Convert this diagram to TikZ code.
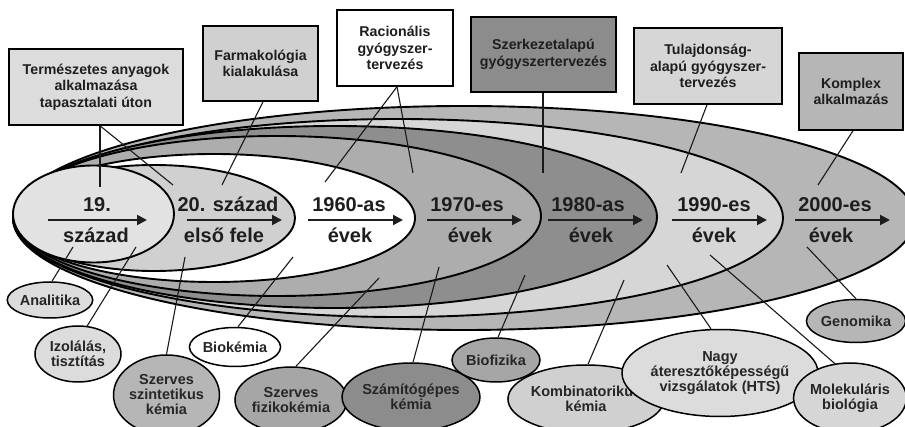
\documentclass[tikz,border=0pt]{standalone}
\usepackage{fontspec}
\setmainfont{Liberation Sans}
\usetikzlibrary{shapes.geometric,arrows.meta}
\definecolor{cE2000}{HTML}{B6B6B6}
\definecolor{cE1990}{HTML}{D6D6D6}
\definecolor{cE1980}{HTML}{8E8E8E}
\definecolor{cE1970}{HTML}{ADADAD}
\definecolor{cE20}{HTML}{D0D0D0}
\definecolor{cE19}{HTML}{E2E2E2}
\definecolor{cLight}{HTML}{DCDCDC}
\definecolor{cMid}{HTML}{B6B6B6}
\definecolor{cMidD}{HTML}{A6A6A6}
\definecolor{cDark}{HTML}{8C8C8C}
\definecolor{cTxt}{HTML}{1E1E1E}
\begin{document}
\begin{tikzpicture}[x=1pt,y=-1pt,
  bigell/.style={draw=black, line width=1.9pt},
  yr/.style={font=\bfseries\fontsize{20}{24}\selectfont, anchor=base, text=cTxt, inner sep=0pt},
  tl/.style={-{Triangle[length=10pt,width=10pt]}, line width=2pt, cTxt},
  tbox/.style={draw=black, line width=1.5pt, rectangle, align=center, inner sep=0pt,
    font=\bfseries\fontsize{14.2}{16.5}\selectfont, text=cTxt},
  bub/.style={draw=black, line width=1.5pt, ellipse, align=center, inner sep=0pt,
    font=\bfseries\fontsize{14.5}{15}\selectfont, text=black!85},
  con/.style={line width=1.1pt, black!90}]
\useasboundingbox (0,0) rectangle (905,427);
% nested eras
\filldraw[bigell, fill=cE2000] (464,218) ellipse [x radius=451pt, y radius=112pt];
\filldraw[bigell, fill=cE1990] (398,218) ellipse [x radius=385pt, y radius=99pt];
\filldraw[bigell, fill=cE1980] (335,217) ellipse [x radius=322pt, y radius=91pt];
\filldraw[bigell, fill=cE1970] (277,216) ellipse [x radius=264pt, y radius=80pt];
\filldraw[bigell, fill=white] (214,218) ellipse [x radius=201pt, y radius=64pt];
\filldraw[bigell, fill=cE20] (154,218) ellipse [x radius=141pt, y radius=53pt];
\filldraw[bigell, fill=cE19] (93.5,214) ellipse [x radius=80.5pt, y radius=48.5pt];
% year labels
\node[yr] (l19a) at (97,212) {19.};
\node[yr] (l19b) at (96,243) {század};
\node[yr] (l20a) at (228,212) {20. század};
\node[yr] (l20b) at (224,243) {első fele};
\node[yr] (l60a) at (349,212) {1960-as};
\node[yr] (l60b) at (350,243) {évek};
\node[yr] (l70a) at (467,212) {1970-es};
\node[yr] (l70b) at (470,243) {évek};
\node[yr] (l80a) at (588,212) {1980-as};
\node[yr] (l80b) at (591,243) {évek};
\node[yr] (l90a) at (714,212) {1990-es};
\node[yr] (l90b) at (714,243) {évek};
\node[yr] (l00a) at (835,212) {2000-es};
\node[yr] (l00b) at (831,243) {évek};
% arrows
\coordinate (r19s) at (48,220);  \coordinate (r19e) at (147,220);
\coordinate (r20s) at (187,220); \coordinate (r20e) at (282,220);
\coordinate (r60s) at (308,220); \coordinate (r60e) at (403,220);
\coordinate (r70s) at (427,220); \coordinate (r70e) at (522,220);
\coordinate (r80s) at (548,220); \coordinate (r80e) at (643,220);
\coordinate (r90s) at (672,220); \coordinate (r90e) at (767,220);
\coordinate (r00s) at (795,220); \coordinate (r00e) at (890,220);
\foreach \k in {19,20,60,70,80,90,00}{\draw[tl] (r\k s) -- (r\k e);}
% boxes
\node[tbox, fill=cLight, minimum width=174pt, minimum height=76pt] (b1) at (96,87)
  {Természetes anyagok\\alkalmazása\\tapasztalati úton};
\node[tbox, fill=cE20, minimum width=115pt, minimum height=75pt] (b2) at (260.5,63.5)
  {Farmakológia\\kialakulása};
\node[tbox, fill=white, minimum width=116pt, minimum height=76pt] (b3) at (395,48)
  {Racionális\\gyógyszer-\\tervezés};
\node[tbox, fill=cDark, minimum width=145pt, minimum height=75pt] (b4) at (543.5,54.5)
  {Szerkezetalapú\\gyógyszertervezés};
\node[tbox, fill=cE1990, minimum width=148pt, minimum height=76pt] (b5) at (708,66)
  {Tulajdonság-\\alapú gyógyszer-\\tervezés};
\node[tbox, fill=cMid, minimum width=104pt, minimum height=77pt] (b6) at (851,91.5)
  {Komplex\\alkalmazás};
% box connectors
\coordinate (p1a) at (100,187);
\coordinate (p1b) at (173,185);
\coordinate (p2) at (222,185);
\coordinate (p3a) at (325,182);
\coordinate (p3b) at (413,173);
\coordinate (p4) at (543,173);
\coordinate (p5) at (681,173);
\coordinate (p6) at (818,185);
\draw[con] ([xshift=4pt]b1.south) -- (p1a);
\draw[con] ([xshift=4pt]b1.south) -- (p1b);
\draw[con] ([xshift=2.5pt]b2.south) -- (p2);
\draw[con] ([xshift=2pt]b3.south) -- (p3a);
\draw[con] ([xshift=2pt]b3.south) -- (p3b);
\draw[con] ([xshift=-0.5pt]b4.south) -- (p4);
\draw[con] ([xshift=-1pt]b5.south) -- (p5);
\draw[con] ([xshift=2pt]b6.south) -- (p6);
% bubbles
\node[bub, fill=cLight, minimum width=84pt, minimum height=36pt] (n1) at (50,300) {Analitika};
\node[bub, fill=cLight, minimum width=86pt, minimum height=56pt] (n2) at (78,354) {Izolálás,\\tisztítás};
\node[bub, fill=cMid, minimum width=94pt, minimum height=80pt] (n3) at (166.5,395) {Szerves\\szintetikus\\kémia};
\node[bub, fill=white, minimum width=84pt, minimum height=39pt] (n4) at (235,347) {Biokémia};
\node[bub, fill=cMidD, minimum width=112pt, minimum height=66pt] (n5) at (291,400) {Szerves\\fizikokémia};
\node[bub, fill=cDark, minimum width=118pt, minimum height=68pt] (n6) at (411,397) {Számítógépes\\kémia};
\node[bub, fill=cMidD, minimum width=88pt, minimum height=44pt] (n7) at (496,360) {Biofizika};
\node[bub, fill=cE20, minimum width=122pt, minimum height=68pt] (n8) at (586,399) {Kombinatorikus\\kémia};
\node[bub, fill=cLight, minimum width=154pt, minimum height=87pt] (n9) at (720,373) {Nagy\\áteresztőképességű\\vizsgálatok (HTS)};
\node[bub, fill=cE1990, minimum width=110pt, minimum height=70pt] (n10) at (850,398) {Molekuláris\\biológia};
\node[bub, fill=cMid, minimum width=96pt, minimum height=43pt] (n11) at (856,321) {Genomika};
% bubble connectors
\coordinate (q1) at (73,247);
\coordinate (q2) at (136,247);
\coordinate (q3) at (185,257);
\coordinate (q4) at (293,257);
\coordinate (q5) at (379,278);
\coordinate (q6) at (439,267);
\coordinate (q7) at (525,275);
\coordinate (q8) at (624,280);
\coordinate (q9) at (667,265);
\coordinate (q10) at (710,255);
\coordinate (q11) at (807,247);
\draw[con] ([xshift=2pt]n1.north) -- (q1);
\draw[con] ([xshift=9pt,yshift=-1pt]n2.north) -- (q2);
\draw[con] (n3.north) -- (q3);
\draw[con] ([xshift=3pt]n4.north) -- (q4);
\draw[con] ([xshift=5pt]n5.north) -- (q5);
\draw[con] ([xshift=2pt]n6.north) -- (q6);
\draw[con] ([xshift=2pt]n7.north) -- (q7);
\draw[con] ([xshift=2pt]n8.north) -- (q8);
\draw[con] ([xshift=-9pt]n9.north) -- (q9);
\draw[con] ([xshift=-15pt,yshift=-1.5pt]n10.north) -- (q10);
\draw[con] (n11.north) -- (q11);
\end{tikzpicture}
\end{document}
